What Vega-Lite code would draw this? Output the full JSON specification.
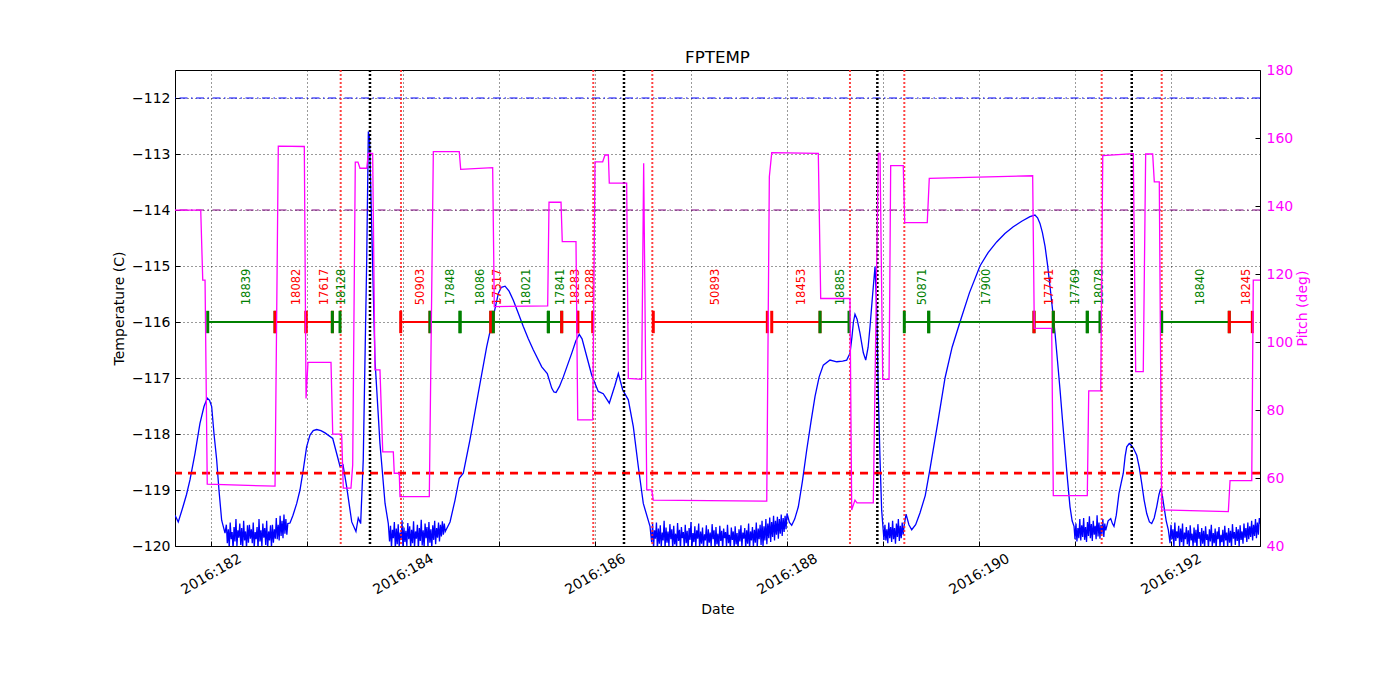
{
  "$schema": "https://vega.github.io/schema/vega-lite/v6.json",
  "width": 1085,
  "height": 476,
  "autosize": {"type": "none"},
  "padding": {"left": 175, "top": 70, "right": 140, "bottom": 154},
  "title": {"text": "FPTEMP", "font": "DejaVu Sans", "fontSize": 16.7, "fontWeight": "normal", "color": "black", "anchor": "middle", "frame": "group", "baseline": "alphabetic", "offset": 7, "dy": 24},
  "datasets": {
    "temp": [
      {"d":181.625,"t":-119.45},{"d":181.659,"t":-119.57},{"d":181.708,"t":-119.30},{"d":181.745,"t":-119.08},{"d":181.781,"t":-118.82},{"d":181.833,"t":-118.35},{"d":181.885,"t":-117.81},{"d":181.927,"t":-117.51},{"d":181.961,"t":-117.36},{"d":181.985,"t":-117.40},{"d":182.007,"t":-117.51},{"d":182.031,"t":-117.99},{"d":182.059,"t":-118.46},{"d":182.083,"t":-119.00},{"d":182.111,"t":-119.54},{"d":182.146,"t":-119.77},
      {"d":182.16,"t":-119.62},{"d":182.17,"t":-119.95},{"d":182.18,"t":-119.70},{"d":182.19,"t":-120.04},{"d":182.20,"t":-119.58},{"d":182.21,"t":-119.88},{"d":182.22,"t":-119.75},{"d":182.23,"t":-120.06},{"d":182.24,"t":-119.66},{"d":182.25,"t":-119.92},{"d":182.26,"t":-119.52},{"d":182.27,"t":-120.01},{"d":182.28,"t":-119.72},{"d":182.29,"t":-119.85},{"d":182.30,"t":-119.60},{"d":182.31,"t":-119.98},{"d":182.32,"t":-119.68},{"d":182.33,"t":-120.05},{"d":182.34,"t":-119.55},{"d":182.35,"t":-119.90},{"d":182.36,"t":-119.74},{"d":182.37,"t":-120.03},{"d":182.38,"t":-119.63},{"d":182.39,"t":-119.94},{"d":182.40,"t":-119.62},{"d":182.41,"t":-119.87},{"d":182.42,"t":-119.70},{"d":182.43,"t":-119.95},{"d":182.44,"t":-119.58},{"d":182.45,"t":-120.04},{"d":182.46,"t":-119.75},{"d":182.47,"t":-119.88},{"d":182.48,"t":-119.66},{"d":182.49,"t":-120.06},{"d":182.50,"t":-119.52},{"d":182.51,"t":-119.92},{"d":182.52,"t":-119.72},{"d":182.53,"t":-120.01},{"d":182.54,"t":-119.60},{"d":182.55,"t":-119.85},{"d":182.56,"t":-119.68},{"d":182.57,"t":-119.98},{"d":182.58,"t":-119.55},{"d":182.59,"t":-120.05},{"d":182.60,"t":-119.74},{"d":182.61,"t":-119.90},{"d":182.62,"t":-119.63},{"d":182.63,"t":-120.03},{"d":182.64,"t":-119.62},{"d":182.65,"t":-119.94},{"d":182.66,"t":-119.70},{"d":182.67,"t":-119.87},{"d":182.68,"t":-119.50},{"d":182.69,"t":-119.88},{"d":182.70,"t":-119.62},{"d":182.71,"t":-119.90},{"d":182.72,"t":-119.46},{"d":182.73,"t":-119.82},{"d":182.74,"t":-119.55},{"d":182.75,"t":-119.86},{"d":182.76,"t":-119.44},{"d":182.77,"t":-119.78},{"d":182.78,"t":-119.52},{"d":182.79,"t":-119.80},{"d":182.80,"t":-119.60},
      {"d":182.823,"t":-119.59},{"d":182.854,"t":-119.45},{"d":182.893,"t":-119.24},{"d":182.927,"t":-119.00},{"d":182.961,"t":-118.64},{"d":182.996,"t":-118.23},{"d":183.031,"t":-118.02},{"d":183.065,"t":-117.94},{"d":183.101,"t":-117.92},{"d":183.145,"t":-117.94},{"d":183.188,"t":-117.98},{"d":183.268,"t":-118.08},{"d":183.326,"t":-118.46},{"d":183.344,"t":-118.58},{"d":183.375,"t":-118.55},{"d":183.413,"t":-118.94},{"d":183.466,"t":-119.57},{"d":183.510,"t":-119.74},{"d":183.534,"t":-119.50},{"d":183.559,"t":-119.60},{"d":183.586,"t":-118.46},{"d":183.622,"t":-114.89},{"d":183.639,"t":-112.60},{"d":183.651,"t":-112.70},{"d":183.674,"t":-114.30},{"d":183.708,"t":-116.68},{"d":183.760,"t":-118.17},{"d":183.813,"t":-119.24},{"d":183.847,"t":-119.60},
      {"d":183.86,"t":-119.92},{"d":183.87,"t":-119.64},{"d":183.88,"t":-120.03},{"d":183.89,"t":-119.71},{"d":183.90,"t":-119.86},{"d":183.91,"t":-119.57},{"d":183.92,"t":-120.05},{"d":183.93,"t":-119.69},{"d":183.94,"t":-119.97},{"d":183.95,"t":-119.61},{"d":183.96,"t":-120.02},{"d":183.97,"t":-119.76},{"d":183.98,"t":-119.89},{"d":183.99,"t":-119.54},{"d":184.00,"t":-120.06},{"d":184.01,"t":-119.67},{"d":184.02,"t":-119.93},{"d":184.03,"t":-119.73},{"d":184.04,"t":-120.00},{"d":184.05,"t":-119.59},{"d":184.06,"t":-119.88},{"d":184.07,"t":-119.65},{"d":184.08,"t":-120.04},{"d":184.09,"t":-119.71},{"d":184.10,"t":-119.95},{"d":184.11,"t":-119.56},{"d":184.12,"t":-120.02},{"d":184.13,"t":-119.74},{"d":184.14,"t":-119.87},{"d":184.15,"t":-119.62},{"d":184.16,"t":-120.05},{"d":184.17,"t":-119.68},{"d":184.18,"t":-119.91},{"d":184.19,"t":-119.53},{"d":184.20,"t":-119.99},{"d":184.21,"t":-119.72},{"d":184.22,"t":-120.03},{"d":184.23,"t":-119.60},{"d":184.24,"t":-119.86},{"d":184.25,"t":-119.66},{"d":184.26,"t":-120.01},{"d":184.27,"t":-119.57},{"d":184.28,"t":-119.94},{"d":184.29,"t":-119.70},{"d":184.30,"t":-120.04},{"d":184.31,"t":-119.63},{"d":184.32,"t":-119.89},{"d":184.33,"t":-119.55},{"d":184.34,"t":-119.97},{"d":184.35,"t":-119.68},{"d":184.36,"t":-119.85},{"d":184.37,"t":-119.58},{"d":184.38,"t":-119.92},{"d":184.39,"t":-119.62},{"d":184.40,"t":-119.83},{"d":184.41,"t":-119.56},{"d":184.42,"t":-119.80},{"d":184.43,"t":-119.60},{"d":184.44,"t":-119.74},
      {"d":184.490,"t":-119.57},{"d":184.542,"t":-119.18},{"d":184.586,"t":-118.79},{"d":184.628,"t":-118.70},{"d":184.698,"t":-118.10},{"d":184.784,"t":-117.27},{"d":184.872,"t":-116.44},{"d":184.941,"t":-115.90},{"d":184.993,"t":-115.49},{"d":185.025,"t":-115.38},{"d":185.063,"t":-115.36},{"d":185.105,"t":-115.45},{"d":185.149,"t":-115.61},{"d":185.200,"t":-115.84},{"d":185.253,"t":-116.08},{"d":185.305,"t":-116.30},{"d":185.358,"t":-116.50},{"d":185.445,"t":-116.80},{"d":185.503,"t":-116.92},{"d":185.549,"t":-117.18},{"d":185.572,"t":-117.25},{"d":185.594,"t":-117.26},{"d":185.630,"t":-117.15},{"d":185.670,"t":-116.98},{"d":185.757,"t":-116.56},{"d":185.800,"t":-116.34},{"d":185.836,"t":-116.22},{"d":185.865,"t":-116.30},{"d":185.896,"t":-116.50},{"d":185.966,"t":-116.95},{"d":186.034,"t":-117.24},{"d":186.086,"t":-117.28},{"d":186.149,"t":-117.45},{"d":186.208,"t":-117.13},{"d":186.243,"t":-116.92},{"d":186.288,"t":-117.21},{"d":186.347,"t":-117.39},{"d":186.399,"t":-117.87},{"d":186.451,"t":-118.58},{"d":186.503,"t":-119.24},{"d":186.573,"t":-119.65},
      {"d":186.59,"t":-119.93},{"d":186.60,"t":-119.60},{"d":186.61,"t":-120.04},{"d":186.62,"t":-119.72},{"d":186.63,"t":-119.87},{"d":186.64,"t":-119.58},{"d":186.65,"t":-120.06},{"d":186.66,"t":-119.69},{"d":186.67,"t":-119.96},{"d":186.68,"t":-119.63},
      {"d":186.69,"t":-120.02},{"d":186.70,"t":-119.76},{"d":186.71,"t":-119.90},{"d":186.72,"t":-119.55},{"d":186.73,"t":-120.05},{"d":186.74,"t":-119.67},{"d":186.75,"t":-119.94},{"d":186.76,"t":-119.74},{"d":186.77,"t":-120.01},{"d":186.78,"t":-119.61},
      {"d":186.79,"t":-119.88},{"d":186.80,"t":-119.70},{"d":186.81,"t":-120.06},{"d":186.82,"t":-119.64},{"d":186.83,"t":-119.97},{"d":186.84,"t":-119.78},{"d":186.85,"t":-120.03},{"d":186.86,"t":-119.59},{"d":186.87,"t":-119.91},{"d":186.88,"t":-119.71},
      {"d":186.89,"t":-120.05},{"d":186.90,"t":-119.66},{"d":186.91,"t":-119.86},{"d":186.92,"t":-119.75},{"d":186.93,"t":-120.02},{"d":186.94,"t":-119.62},{"d":186.95,"t":-119.95},{"d":186.96,"t":-119.73},{"d":186.97,"t":-120.06},{"d":186.98,"t":-119.68},
      {"d":186.99,"t":-119.89},{"d":187.00,"t":-119.57},{"d":187.01,"t":-120.04},{"d":187.02,"t":-119.77},{"d":187.03,"t":-119.93},{"d":187.04,"t":-119.65},{"d":187.05,"t":-120.01},{"d":187.06,"t":-119.72},{"d":187.07,"t":-119.87},{"d":187.08,"t":-119.60},
      {"d":187.09,"t":-120.05},{"d":187.10,"t":-119.74},{"d":187.11,"t":-119.96},{"d":187.12,"t":-119.67},{"d":187.13,"t":-120.03},{"d":187.14,"t":-119.79},{"d":187.15,"t":-119.90},{"d":187.16,"t":-119.63},{"d":187.17,"t":-120.06},{"d":187.18,"t":-119.70},
      {"d":187.19,"t":-119.94},{"d":187.20,"t":-119.76},{"d":187.21,"t":-120.02},{"d":187.22,"t":-119.61},{"d":187.23,"t":-119.88},{"d":187.24,"t":-119.72},{"d":187.25,"t":-120.05},{"d":187.26,"t":-119.66},{"d":187.27,"t":-119.97},{"d":187.28,"t":-119.78},
      {"d":187.29,"t":-120.04},{"d":187.30,"t":-119.64},{"d":187.31,"t":-119.91},{"d":187.32,"t":-119.73},{"d":187.33,"t":-120.06},{"d":187.34,"t":-119.69},{"d":187.35,"t":-119.86},{"d":187.36,"t":-119.75},{"d":187.37,"t":-120.01},{"d":187.38,"t":-119.62},
      {"d":187.39,"t":-119.95},{"d":187.40,"t":-119.80},{"d":187.41,"t":-120.05},{"d":187.42,"t":-119.67},{"d":187.43,"t":-119.89},{"d":187.44,"t":-119.74},{"d":187.45,"t":-120.03},{"d":187.46,"t":-119.65},{"d":187.47,"t":-119.97},{"d":187.48,"t":-119.77},
      {"d":187.49,"t":-120.06},{"d":187.50,"t":-119.70},{"d":187.51,"t":-119.92},{"d":187.52,"t":-119.63},{"d":187.53,"t":-120.02},{"d":187.54,"t":-119.76},{"d":187.55,"t":-119.87},{"d":187.56,"t":-119.68},{"d":187.57,"t":-120.04},{"d":187.58,"t":-119.72},
      {"d":187.59,"t":-119.96},{"d":187.60,"t":-119.60},{"d":187.61,"t":-120.05},{"d":187.62,"t":-119.74},{"d":187.63,"t":-119.90},{"d":187.64,"t":-119.66},{"d":187.65,"t":-120.01},{"d":187.66,"t":-119.71},{"d":187.67,"t":-119.94},{"d":187.68,"t":-119.58},
      {"d":187.69,"t":-120.03},{"d":187.70,"t":-119.69},{"d":187.71,"t":-119.88},{"d":187.72,"t":-119.62},{"d":187.73,"t":-119.98},{"d":187.74,"t":-119.55},{"d":187.75,"t":-120.02},{"d":187.76,"t":-119.65},{"d":187.77,"t":-119.90},{"d":187.78,"t":-119.52},
      {"d":187.79,"t":-119.97},{"d":187.80,"t":-119.60},{"d":187.81,"t":-119.86},{"d":187.82,"t":-119.49},{"d":187.83,"t":-119.93},{"d":187.84,"t":-119.57},{"d":187.85,"t":-119.84},{"d":187.86,"t":-119.46},{"d":187.87,"t":-119.90},{"d":187.88,"t":-119.55},
      {"d":187.89,"t":-119.80},{"d":187.90,"t":-119.48},{"d":187.91,"t":-119.87},{"d":187.92,"t":-119.52},{"d":187.93,"t":-119.78},{"d":187.94,"t":-119.44},{"d":187.95,"t":-119.82},{"d":187.96,"t":-119.50},{"d":187.97,"t":-119.75},{"d":187.98,"t":-119.46},{"d":187.99,"t":-119.70},
      {"d":188.000,"t":-119.42},{"d":188.025,"t":-119.58},{"d":188.049,"t":-119.63},{"d":188.080,"t":-119.52},{"d":188.118,"t":-119.30},{"d":188.160,"t":-118.85},{"d":188.205,"t":-118.29},{"d":188.250,"t":-117.78},{"d":188.292,"t":-117.33},{"d":188.335,"t":-116.98},{"d":188.378,"t":-116.77},{"d":188.448,"t":-116.68},{"d":188.518,"t":-116.71},{"d":188.580,"t":-116.70},{"d":188.622,"t":-116.68},{"d":188.656,"t":-116.56},{"d":188.677,"t":-116.26},{"d":188.692,"t":-116.00},{"d":188.708,"t":-115.86},{"d":188.730,"t":-115.95},{"d":188.760,"t":-116.20},{"d":188.795,"t":-116.55},{"d":188.820,"t":-116.68},{"d":188.845,"t":-116.45},{"d":188.865,"t":-116.08},{"d":188.890,"t":-115.55},{"d":188.917,"t":-115.01},{"d":188.935,"t":-115.80},{"d":188.951,"t":-117.27},{"d":188.968,"t":-118.40},{"d":188.986,"t":-119.36},{"d":189.010,"t":-119.89},
      {"d":189.02,"t":-119.62},{"d":189.03,"t":-119.90},{"d":189.04,"t":-119.70},{"d":189.05,"t":-119.95},{"d":189.06,"t":-119.58},{"d":189.07,"t":-119.86},{"d":189.08,"t":-119.66},{"d":189.09,"t":-119.93},{"d":189.10,"t":-119.55},{"d":189.11,"t":-119.88},{"d":189.12,"t":-119.68},{"d":189.13,"t":-119.96},{"d":189.14,"t":-119.60},{"d":189.15,"t":-119.84},{"d":189.16,"t":-119.52},{"d":189.17,"t":-119.91},{"d":189.18,"t":-119.64},{"d":189.19,"t":-119.86},{"d":189.20,"t":-119.58},{"d":189.21,"t":-119.80},{"d":189.22,"t":-119.64},
      {"d":189.240,"t":-119.43},{"d":189.270,"t":-119.62},{"d":189.299,"t":-119.71},{"d":189.340,"t":-119.62},{"d":189.385,"t":-119.41},{"d":189.440,"t":-119.10},{"d":189.490,"t":-118.62},{"d":189.570,"t":-117.80},{"d":189.646,"t":-117.00},{"d":189.720,"t":-116.45},{"d":189.802,"t":-116.00},{"d":189.900,"t":-115.48},{"d":190.010,"t":-115.00},{"d":190.095,"t":-114.76},{"d":190.184,"t":-114.57},{"d":190.270,"t":-114.42},{"d":190.357,"t":-114.30},{"d":190.445,"t":-114.20},{"d":190.531,"t":-114.12},{"d":190.583,"t":-114.09},{"d":190.610,"t":-114.14},{"d":190.635,"t":-114.24},{"d":190.660,"t":-114.40},{"d":190.688,"t":-114.65},{"d":190.714,"t":-114.98},{"d":190.740,"t":-115.37},{"d":190.766,"t":-115.78},{"d":190.792,"t":-116.20},{"d":190.818,"t":-116.70},{"d":190.844,"t":-117.21},{"d":190.870,"t":-117.76},{"d":190.896,"t":-118.29},{"d":190.922,"t":-118.82},{"d":190.948,"t":-119.30},{"d":190.970,"t":-119.55},{"d":190.990,"t":-119.65},
      {"d":191.00,"t":-119.88},{"d":191.01,"t":-119.60},{"d":191.02,"t":-119.92},{"d":191.03,"t":-119.68},{"d":191.04,"t":-119.86},{"d":191.05,"t":-119.52},{"d":191.06,"t":-119.90},{"d":191.07,"t":-119.63},{"d":191.08,"t":-119.84},{"d":191.09,"t":-119.50},{"d":191.10,"t":-119.89},{"d":191.11,"t":-119.66},{"d":191.12,"t":-119.93},{"d":191.13,"t":-119.57},{"d":191.14,"t":-119.82},{"d":191.15,"t":-119.47},{"d":191.16,"t":-119.86},{"d":191.17,"t":-119.61},{"d":191.18,"t":-119.91},{"d":191.19,"t":-119.55},{"d":191.20,"t":-119.80},{"d":191.21,"t":-119.64},{"d":191.22,"t":-119.88},{"d":191.23,"t":-119.45},{"d":191.24,"t":-119.83},{"d":191.25,"t":-119.58},{"d":191.26,"t":-119.87},{"d":191.27,"t":-119.62},{"d":191.28,"t":-119.79},{"d":191.29,"t":-119.52},{"d":191.30,"t":-119.84},{"d":191.31,"t":-119.60},{"d":191.32,"t":-119.72},
      {"d":191.345,"t":-119.55},{"d":191.372,"t":-119.51},{"d":191.390,"t":-119.60},{"d":191.406,"t":-119.65},{"d":191.430,"t":-119.45},{"d":191.458,"t":-119.06},{"d":191.480,"t":-118.88},{"d":191.503,"t":-118.70},{"d":191.522,"t":-118.40},{"d":191.539,"t":-118.23},{"d":191.565,"t":-118.17},{"d":191.585,"t":-118.20},{"d":191.607,"t":-118.25},{"d":191.643,"t":-118.38},{"d":191.670,"t":-118.60},{"d":191.695,"t":-118.88},{"d":191.720,"t":-119.18},{"d":191.747,"t":-119.42},{"d":191.775,"t":-119.57},{"d":191.799,"t":-119.60},{"d":191.825,"t":-119.50},{"d":191.851,"t":-119.30},{"d":191.875,"t":-119.08},{"d":191.893,"t":-118.97},{"d":191.910,"t":-119.10},{"d":191.927,"t":-119.30},{"d":191.950,"t":-119.55},{"d":191.972,"t":-119.71},
      {"d":191.99,"t":-119.95},{"d":192.00,"t":-119.62},{"d":192.01,"t":-119.88},{"d":192.02,"t":-119.70},{"d":192.03,"t":-120.02},{"d":192.04,"t":-119.58},{"d":192.05,"t":-119.91},{"d":192.06,"t":-119.74},{"d":192.07,"t":-119.86},{"d":192.08,"t":-119.64},
      {"d":192.09,"t":-120.00},{"d":192.10,"t":-119.69},{"d":192.11,"t":-119.93},{"d":192.12,"t":-119.60},{"d":192.13,"t":-120.04},{"d":192.14,"t":-119.76},{"d":192.15,"t":-119.88},{"d":192.16,"t":-119.66},{"d":192.17,"t":-119.97},{"d":192.18,"t":-119.72},
      {"d":192.19,"t":-120.03},{"d":192.20,"t":-119.63},{"d":192.21,"t":-119.90},{"d":192.22,"t":-119.78},{"d":192.23,"t":-120.01},{"d":192.24,"t":-119.67},{"d":192.25,"t":-119.94},{"d":192.26,"t":-119.71},{"d":192.27,"t":-120.05},{"d":192.28,"t":-119.61},
      {"d":192.29,"t":-119.87},{"d":192.30,"t":-119.75},{"d":192.31,"t":-120.02},{"d":192.32,"t":-119.68},{"d":192.33,"t":-119.96},{"d":192.34,"t":-119.73},{"d":192.35,"t":-120.04},{"d":192.36,"t":-119.65},{"d":192.37,"t":-119.89},{"d":192.38,"t":-119.79},
      {"d":192.39,"t":-120.03},{"d":192.40,"t":-119.70},{"d":192.41,"t":-119.92},{"d":192.42,"t":-119.62},{"d":192.43,"t":-120.01},{"d":192.44,"t":-119.77},{"d":192.45,"t":-119.95},{"d":192.46,"t":-119.69},{"d":192.47,"t":-120.05},{"d":192.48,"t":-119.74},
      {"d":192.49,"t":-119.88},{"d":192.50,"t":-119.66},{"d":192.51,"t":-120.02},{"d":192.52,"t":-119.80},{"d":192.53,"t":-119.93},{"d":192.54,"t":-119.71},{"d":192.55,"t":-120.04},{"d":192.56,"t":-119.64},{"d":192.57,"t":-119.90},{"d":192.58,"t":-119.76},
      {"d":192.59,"t":-120.01},{"d":192.60,"t":-119.68},{"d":192.61,"t":-119.94},{"d":192.62,"t":-119.73},{"d":192.63,"t":-120.03},{"d":192.64,"t":-119.61},{"d":192.65,"t":-119.87},{"d":192.66,"t":-119.75},{"d":192.67,"t":-119.98},{"d":192.68,"t":-119.66},
      {"d":192.69,"t":-119.91},{"d":192.70,"t":-119.70},{"d":192.71,"t":-120.02},{"d":192.72,"t":-119.63},{"d":192.73,"t":-119.89},{"d":192.74,"t":-119.74},{"d":192.75,"t":-119.96},{"d":192.76,"t":-119.60},{"d":192.77,"t":-119.85},{"d":192.78,"t":-119.68},
      {"d":192.79,"t":-119.93},{"d":192.80,"t":-119.58},{"d":192.81,"t":-119.88},{"d":192.82,"t":-119.65},{"d":192.83,"t":-119.84},{"d":192.84,"t":-119.55},{"d":192.85,"t":-119.90},{"d":192.86,"t":-119.62},{"d":192.87,"t":-119.82},{"d":192.88,"t":-119.52},
      {"d":192.89,"t":-119.86},{"d":192.90,"t":-119.58},{"d":192.91,"t":-119.80},{"d":192.92,"t":-119.50},{"d":192.93,"t":-119.60}
    ],
    "pitch": [
      {"d":181.625,"p":138.8},{"d":181.893,"p":138.8},{"d":181.914,"p":118.2},{"d":181.938,"p":118.2},{"d":181.961,"p":58.2},{"d":182.667,"p":57.6},{"d":182.701,"p":157.6},{"d":182.972,"p":157.5},{"d":182.990,"p":83.4},{"d":183.010,"p":94.0},{"d":183.250,"p":94.0},{"d":183.268,"p":72.9},{"d":183.361,"p":72.9},{"d":183.378,"p":57.0},{"d":183.458,"p":57.0},{"d":183.476,"p":63.8},{"d":183.503,"p":152.9},{"d":183.531,"p":152.9},{"d":183.552,"p":151.1},{"d":183.622,"p":151.1},{"d":183.639,"p":155.5},{"d":183.684,"p":155.5},{"d":183.708,"p":91.8},{"d":183.760,"p":91.8},{"d":183.789,"p":67.7},{"d":183.899,"p":67.7},{"d":183.909,"p":61.4},{"d":183.961,"p":61.4},{"d":183.969,"p":54.5},{"d":184.274,"p":54.5},{"d":184.316,"p":156.0},{"d":184.586,"p":156.0},{"d":184.601,"p":150.8},{"d":184.934,"p":151.3},{"d":184.951,"p":110.4},{"d":185.507,"p":110.6},{"d":185.521,"p":141.1},{"d":185.646,"p":141.1},{"d":185.659,"p":129.5},{"d":185.802,"p":129.5},{"d":185.820,"p":77.1},{"d":185.976,"p":77.1},{"d":186.000,"p":153.0},{"d":186.080,"p":153.0},{"d":186.104,"p":155.0},{"d":186.139,"p":155.0},{"d":186.149,"p":146.7},{"d":186.330,"p":146.7},{"d":186.347,"p":89.3},{"d":186.486,"p":89.0},{"d":186.507,"p":152.6},{"d":186.539,"p":56.5},{"d":186.591,"p":56.5},{"d":186.607,"p":53.5},{"d":187.789,"p":53.2},{"d":187.816,"p":148.6},{"d":187.841,"p":155.7},{"d":188.326,"p":155.5},{"d":188.351,"p":112.8},{"d":188.656,"p":112.8},{"d":188.674,"p":50.6},{"d":188.708,"p":53.5},{"d":188.729,"p":52.7},{"d":188.899,"p":52.7},{"d":188.951,"p":155.5},{"d":188.969,"p":155.5},{"d":188.997,"p":89.0},{"d":189.063,"p":89.0},{"d":189.080,"p":151.9},{"d":189.211,"p":151.9},{"d":189.226,"p":135.1},{"d":189.461,"p":135.1},{"d":189.482,"p":148.1},{"d":190.559,"p":148.9},{"d":190.576,"p":104.0},{"d":190.757,"p":104.0},{"d":190.774,"p":54.8},{"d":191.128,"p":54.8},{"d":191.143,"p":85.6},{"d":191.268,"p":85.6},{"d":191.289,"p":154.8},{"d":191.607,"p":155.4},{"d":191.632,"p":91.3},{"d":191.711,"p":91.3},{"d":191.736,"p":155.3},{"d":191.809,"p":155.3},{"d":191.826,"p":147.1},{"d":191.878,"p":147.1},{"d":191.903,"p":50.6},{"d":192.597,"p":50.1},{"d":192.615,"p":59.2},{"d":192.841,"p":59.2},{"d":192.857,"p":118.2},{"d":192.927,"p":118.2}
    ],
    "segs": [
      {"s":181.966,"e":182.667,"c":"g","lab":"18839"},
      {"s":182.667,"e":182.990,"c":"r","lab":"18082"},
      {"s":182.990,"e":183.264,"c":"r","lab":"17617"},
      {"s":183.264,"e":183.344,"c":"g","lab":"18128"},
      {"s":183.976,"e":184.281,"c":"r","lab":"50903"},
      {"s":184.281,"e":184.594,"c":"g","lab":"17848"},
      {"s":184.594,"e":184.914,"c":"g","lab":"18086"},
      {"s":184.914,"e":184.941,"c":"r","lab":"17517"},
      {"s":184.941,"e":185.514,"c":"g","lab":"18021"},
      {"s":185.514,"e":185.653,"c":"g","lab":"17841"},
      {"s":185.653,"e":185.820,"c":"r","lab":"18283"},
      {"s":185.820,"e":185.976,"c":"r","lab":"18288"},
      {"s":186.607,"e":187.795,"c":"r","lab":"50893"},
      {"s":187.841,"e":188.344,"c":"r","lab":"18453"},
      {"s":188.344,"e":188.646,"c":"g","lab":"18885"},
      {"s":189.222,"e":189.476,"c":"g","lab":"50871"},
      {"s":189.476,"e":190.573,"c":"g","lab":"17900"},
      {"s":190.573,"e":190.774,"c":"r","lab":"17741"},
      {"s":190.774,"e":191.128,"c":"g","lab":"17769"},
      {"s":191.128,"e":191.260,"c":"g","lab":"18078"},
      {"s":191.903,"e":192.607,"c":"g","lab":"18840"},
      {"s":192.607,"e":192.847,"c":"r","lab":"18245"}
    ],
    "vred": [{"d":183.351},{"d":183.979},{"d":185.982},{"d":186.597},{"d":188.656},{"d":189.222},{"d":191.278},{"d":191.903}],
    "vblack": [{"d":183.656},{"d":186.302},{"d":188.941},{"d":191.591}]
  },
  "layer": [
    {
      "layer": [
        {
          "data": {"name": "temp"},
          "mark": {"type": "line", "color": "#0000FF", "strokeWidth": 1.3, "clip": true},
          "encoding": {
            "x": {
              "field": "d", "type": "quantitative", "title": "Date",
              "scale": {"domain": [181.625, 192.927], "nice": false, "zero": false},
              "axis": {
                "values": [182, 183, 184, 185, 186, 187, 188, 189, 190, 191, 192],
                "labelExpr": "datum.value % 2 == 0 ? '2016:' + datum.value : ''",
                "labelAngle": -30, "labelAlign": "center", "labelBaseline": "middle",
                "labelPadding": 33, "labelOverlap": false, "labelFlush": false,
                "grid": true, "gridColor": "black", "gridDash": [1, 3], "gridWidth": 0.8,
                "titlePadding": 6
              }
            },
            "y": {
              "field": "t", "type": "quantitative", "title": "Temperature (C)",
              "scale": {"domain": [-120, -111.5], "nice": false, "zero": false},
              "axis": {
                "values": [-120, -119, -118, -117, -116, -115, -114, -113, -112],
                "labelPadding": 10, "grid": true, "gridColor": "black", "gridDash": [1, 3], "gridWidth": 0.8,
                "titlePadding": 5
              }
            }
          }
        },
        {
          "data": {"values": [{"t": -112}]},
          "mark": {"type": "rule", "color": "#0000FF", "strokeWidth": 1, "strokeDash": [8, 3.5, 1.5, 3.5]},
          "encoding": {"y": {"field": "t", "type": "quantitative"}}
        },
        {
          "data": {"values": [{"t": -114}]},
          "mark": {"type": "rule", "color": "#800080", "strokeWidth": 1, "strokeDash": [8, 3.5, 1.5, 3.5]},
          "encoding": {"y": {"field": "t", "type": "quantitative"}}
        },
        {
          "data": {"values": [{"t": -118.7}]},
          "mark": {"type": "rule", "color": "#FF0000", "strokeWidth": 2.8, "strokeDash": [8, 6]},
          "encoding": {"y": {"field": "t", "type": "quantitative"}}
        },
        {
          "data": {"name": "vred"},
          "mark": {"type": "rule", "color": "#FF2222", "strokeWidth": 2, "strokeDash": [2, 2], "opacity": 0.85},
          "encoding": {"x": {"field": "d", "type": "quantitative"}}
        },
        {
          "data": {"name": "vblack"},
          "mark": {"type": "rule", "color": "black", "strokeWidth": 2.5, "strokeDash": [2, 2]},
          "encoding": {"x": {"field": "d", "type": "quantitative"}}
        },
        {
          "data": {"name": "segs"},
          "mark": {"type": "rule", "strokeWidth": 2},
          "encoding": {
            "x": {"field": "s", "type": "quantitative"},
            "x2": {"field": "e"},
            "y": {"datum": -116, "type": "quantitative"},
            "color": {"field": "c", "type": "nominal", "scale": {"domain": ["g", "r"], "range": ["#008000", "#FF0000"]}, "legend": null}
          }
        },
        {
          "data": {"name": "segs"},
          "transform": [{"fold": ["s", "e"], "as": ["end", "pos"]}],
          "mark": {"type": "rule", "strokeWidth": 3},
          "encoding": {
            "x": {"field": "pos", "type": "quantitative"},
            "y": {"datum": -115.8, "type": "quantitative"},
            "y2": {"datum": -116.2},
            "color": {"field": "c", "type": "nominal", "legend": null}
          }
        },
        {
          "data": {"name": "segs"},
          "transform": [{"calculate": "(datum.s + datum.e) / 2", "as": "mid"}],
          "mark": {"type": "text", "angle": 270, "align": "left", "baseline": "top", "font": "DejaVu Sans", "fontSize": 11.5},
          "encoding": {
            "x": {"field": "mid", "type": "quantitative"},
            "y": {"datum": -115.7, "type": "quantitative"},
            "text": {"field": "lab"},
            "color": {"field": "c", "type": "nominal", "legend": null}
          }
        }
      ]
    },
    {
      "data": {"name": "pitch"},
      "mark": {"type": "line", "color": "#FF00FF", "strokeWidth": 1.3},
      "encoding": {
        "x": {"field": "d", "type": "quantitative"},
        "y": {
          "field": "p", "type": "quantitative", "title": "Pitch (deg)",
          "scale": {"domain": [40, 180], "nice": false, "zero": false},
          "axis": {
            "orient": "right", "values": [40, 60, 80, 100, 120, 140, 160, 180],
            "labelColor": "#FF00FF", "titleColor": "#FF00FF", "grid": false,
            "labelPadding": 11, "titleAngle": 270, "titleBaseline": "top", "titlePadding": 3
          }
        }
      }
    }
  ],
  "resolve": {"scale": {"y": "independent"}},
  "config": {
    "view": {"stroke": "black", "strokeWidth": 1},
    "font": "DejaVu Sans",
    "axis": {
      "labelFont": "DejaVu Sans", "labelFontSize": 14, "labelColor": "black",
      "titleFont": "DejaVu Sans", "titleFontSize": 14, "titleFontWeight": "normal", "titleColor": "black",
      "tickColor": "black", "tickSize": -5, "domain": false
    }
  }
}
